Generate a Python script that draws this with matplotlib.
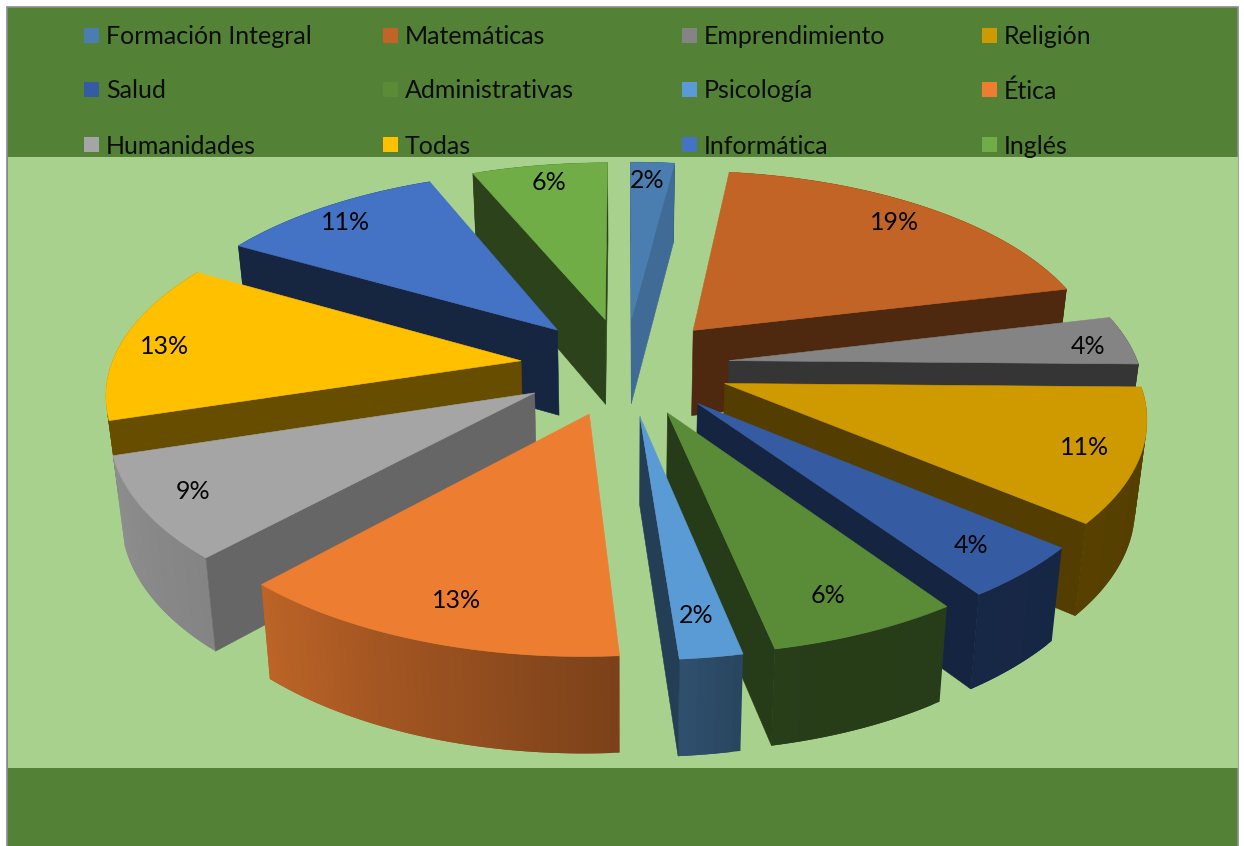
import numpy as np
import matplotlib
matplotlib.use("Agg")
import matplotlib.pyplot as plt
from matplotlib.colors import to_rgb
from matplotlib.patches import Rectangle

categories = ["Formación Integral", "Matemáticas", "Emprendimiento", "Religión",
              "Salud", "Administrativas", "Psicología", "Ética",
              "Humanidades", "Todas", "Informática", "Inglés"]
values = [2, 19, 4, 11, 4, 6, 2, 13, 9, 13, 11, 6]
colors = ["#4A7EB0", "#C26426", "#848484", "#CF9900", "#355CA3", "#5A8C38",
          "#5B9BD5", "#ED7D31", "#A5A5A5", "#FFC000", "#4472C4", "#70AD47"]
# how dark the flat cut face of each slice gets
cut_shade = [0.85, 0.40, 0.40, 0.40, 0.40, 0.42, 0.40, 0.40, 0.62, 0.40, 0.33, 0.38]
# small shifts of the data labels, in pixels
label_dx = [-3, -3, 16, 5, -3, -7, -4, 9, -9, -13, -10, 1]
label_dy = [-1, -1, 4, 2, -1, -2, -3, -4, 0, 3, 0, -2]

# pie geometry, in pixels of the picture
CX, CY = 625, 366
R = 410
EXPLODE = 105
TILT = 0.468
PERSP = 3.53e-4

# the 3D view skews the angles a little, worst at the front
WARP_AT = [0, 90, 130, 145, 166, 173, 220, 252, 300, 338, 360]
WARP_BY = [0, 1, 0.5, 1.7, 2.8, 3, 3, 0.5, 1, -1, 0]


def view_angle(deg):
    return np.radians(deg + np.interp(deg, WARP_AT, WARP_BY))


def project(x, y):
    s = 1 / (1 - PERSP * y)
    return CX + x * s, CY + y * TILT * s, s


def drop(px, s):
    # same point on the lower face of the slab
    px_x, px_y = px
    depth = 85 + (s - 0.97) * 48
    return CX + (px_x - CX) * 0.977, px_y + depth


def rim_shade(deg):
    return np.interp(deg, [90, 165, 173, 220, 252, 253, 360],
                     [0.40, 0.44, 0.52, 0.80, 0.86, 0.40, 0.40])


def scaled(color, k):
    return tuple(c * k for c in to_rgb(color))


def poly(ax, pts, color, z, lw=0.4):
    pts = np.array(pts)
    ax.fill(pts[:, 0], pts[:, 1], facecolor=color, edgecolor=color, linewidth=lw, zorder=z)


plt.rcParams["font.family"] = ["Lato", "DejaVu Sans"]
fig = plt.figure(figsize=(12.44, 8.46), dpi=100, facecolor="white")
ax = fig.add_axes([0, 0, 1, 1])
ax.set_xlim(0, 1244)
ax.set_ylim(846, 0)
ax.axis("off")

# chart area and plot area
ax.add_patch(Rectangle((7, 7), 1231, 845, facecolor="#538135", edgecolor="#8c8c8c", linewidth=1.2, zorder=0))
ax.add_patch(Rectangle((7.6, 157), 1230, 611, facecolor="#A9D18E", edgecolor="none", zorder=1))

edges = np.cumsum([0] + values) / sum(values) * 360
mids = (edges[:-1] + edges[1:]) / 2

# back slices first
order = sorted(range(len(values)), key=lambda i: -np.cos(np.radians(mids[i])))
z = 2
for i in order:
    a0, a1 = edges[i], edges[i + 1]
    am = view_angle(mids[i])
    ox = EXPLODE * np.sin(am)
    oy = -EXPLODE * np.cos(am)
    angs = np.linspace(a0, a1, max(int(a1 - a0), 2) + 1)
    top, low = [], []
    for a in angs:
        t = view_angle(a)
        x, y, s = project(ox + R * np.sin(t), oy - R * np.cos(t))
        top.append((x, y))
        low.append(drop((x, y), s))
    ax_, ay_, s_ = project(ox, oy)
    apex = (ax_, ay_)
    apex_low = drop(apex, s_)

    # outer rim, every quad runs under the next so no seams show
    n = len(angs) - 1
    for k in range(n):
        c = scaled(colors[i], rim_shade((angs[k] + angs[k + 1]) / 2))
        e = min(k + 2, n)
        poly(ax, [top[k], top[e], low[e], low[k]], c, z, lw=0)
        z += 0.001
    z += 1

    # cut faces, only when they look toward the viewer
    mid_pt = top[len(top) // 2]
    for end, end_low in ((top[0], low[0]), (top[-1], low[-1])):
        ex, ey = end[0] - apex[0], end[1] - apex[1]
        inside = ex * (mid_pt[1] - apex[1]) - ey * (mid_pt[0] - apex[0])
        if inside * ex < 0:
            poly(ax, [apex, end, end_low, apex_low], scaled(colors[i], cut_shade[i]), z)
            z += 1

    poly(ax, [apex] + top, colors[i], z)
    z += 1

# data labels
for i, v in enumerate(values):
    am = view_angle(mids[i])
    x = (EXPLODE + 0.86 * R) * np.sin(am)
    y = -(EXPLODE + 0.86 * R) * np.cos(am)
    px, py, _ = project(x, y)
    ax.text(px + label_dx[i], py + label_dy[i], f"{v}%", ha="center", va="center",
            fontsize=18, color="#050505", zorder=500)

# legend, row by row
col_x = [84, 383, 682, 982]
row_y = [36.5, 91, 146]
for i, name in enumerate(categories):
    lx = col_x[i % 4]
    ly = row_y[i // 4]
    ax.add_patch(Rectangle((lx, ly - 8.5), 15, 15, facecolor=colors[i], edgecolor="none", zorder=501))
    ax.text(lx + 22, ly, name, ha="left", va="center", fontsize=18, color="#0d0d0d", zorder=501)

fig.savefig("out.png", dpi=100)
